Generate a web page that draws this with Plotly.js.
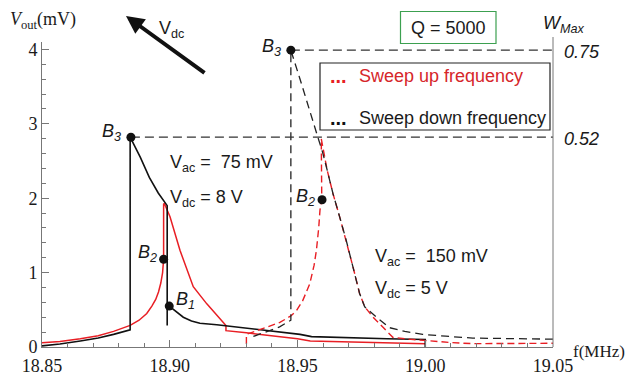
<!DOCTYPE html>
<html>
<head>
<meta charset="utf-8">
<script src="https://cdn.plot.ly/plotly-3.0.1.min.js"></script>
<style>html,body{margin:0;padding:0;background:#fff;}#chart{width:627px;height:376px;}</style>
</head>
<body>
<div id="chart"></div>
<script>
// ---- Data ----
// Vac = 75 mV, Vdc = 8 V, sweep up (red solid)
const up75X = [18.850, 18.857, 18.865, 18.872, 18.878, 18.8845, 18.888, 18.891, 18.893, 18.8945, 18.8956, 18.8965, 18.8972, 18.8976, 18.8976, 18.8979, 18.9001, 18.904, 18.9092, 18.9145, 18.922, 18.922, 18.930, 18.940, 18.950, 18.955, 18.965, 18.980, 19.000];
const up75Y = [0.057, 0.075, 0.11, 0.15, 0.21, 0.29, 0.36, 0.45, 0.55, 0.64, 0.74, 0.86, 1.00, 1.18, 1.92, 1.93, 1.75, 1.30, 0.81, 0.58, 0.29, 0.22, 0.19, 0.15, 0.11, 0.08, 0.07, 0.06, 0.045];
// Vac = 75 mV, Vdc = 8 V, sweep down (black solid)
const down75X = [18.850, 18.857, 18.865, 18.872, 18.878, 18.8845, 18.8845, 18.8885, 18.892, 18.8955, 18.899, 18.899, null, 18.8998, 18.9025, 18.9053, 18.9085, 18.9118, 18.9184, 18.9262, 18.9379, 18.951, 18.9555, 18.9665, 18.985, 19.000, 19.000];
const down75Y = [0.015, 0.04, 0.08, 0.12, 0.17, 0.23, 2.82, 2.55, 2.28, 2.07, 1.90, 0.29, null, 0.55, 0.48, 0.40, 0.35, 0.32, 0.30, 0.27, 0.22, 0.17, 0.14, 0.125, 0.11, 0.10, 0.0];
// Vac = 150 mV, Vdc = 5 V, sweep up (red dashed)
const up150X = [18.930, 18.930, 18.9366, 18.9431, 18.9475, 18.9496, 18.952, 18.9548, 18.9565, 18.9574, 18.9583, 18.9588, 18.9595, 18.9593, 18.9616, 18.9639, 18.9665, 18.9691, 18.9717, 18.9743, 18.9763, 18.9796, 18.9873, 18.992, 19.000, 19.010, 19.0186, 19.035, 19.050];
const up150Y = [0.04, 0.17, 0.25, 0.33, 0.42, 0.49, 0.62, 0.85, 1.10, 1.30, 1.60, 1.84, 1.98, 2.80, 2.38, 2.06, 1.75, 1.43, 1.08, 0.72, 0.54, 0.40, 0.13, 0.11, 0.085, 0.06, 0.045, 0.045, 0.05];
// Vac = 150 mV, Vdc = 5 V, sweep down (black dashed)
const down150X = [19.050, 19.035, 19.0186, 19.008, 18.999, 18.992, 18.986, 18.9809, 18.9763, 18.9743, 18.9717, 18.9691, 18.9665, 18.9639, 18.9616, 18.9598, 18.9577, 18.9548, 18.951, 18.9474, 18.9474, 18.943, 18.9366, 18.931];
const down150Y = [0.105, 0.11, 0.12, 0.145, 0.17, 0.21, 0.26, 0.40, 0.54, 0.72, 1.08, 1.43, 1.75, 2.06, 2.38, 2.62, 2.85, 3.19, 3.60, 3.99, 0.36, 0.27, 0.19, 0.12];
// Bifurcation points
const pointX = [18.8848, 18.8976, 18.8998, 18.9474, 18.9596];
const pointY = [2.82, 1.18, 0.55, 3.99, 1.98];
const pointLabels = ['B<sub>3</sub>', 'B<sub>2</sub>', 'B<sub>1</sub>', 'B<sub>3</sub>', 'B<sub>2</sub>'];
// Reference levels (W_Max) drawn from the B3 points to the right axis
const levelY = [2.82, 3.99];
const levelStartX = [18.8848, 18.9474];
const levelLabels = ['0.52', '0.75'];
const xMax = 19.05;

const RED = 'rgb(232,30,36)';
const traces = [
  {x: up75X, y: up75Y, mode: 'lines', line: {color: RED, width: 1.5}, connectgaps: false},
  {x: down75X, y: down75Y, mode: 'lines', line: {color: '#111', width: 1.6}, connectgaps: false},
  {x: up150X, y: up150Y, mode: 'lines', line: {color: RED, width: 1.4, dash: '7px,4px'}},
  {x: down150X, y: down150Y, mode: 'lines', line: {color: '#222', width: 1.3, dash: '8px,5px'}}
];
levelY.forEach((ly, i) => {
  traces.push({x: [levelStartX[i], xMax], y: [ly, ly], mode: 'lines', line: {color: '#333', width: 1.2, dash: '9px,5px'}, cliponaxis: false});
});
traces.push({x: pointX, y: pointY, mode: 'markers', marker: {color: '#111', size: 9}, cliponaxis: false});

const SANS = 'Liberation Sans, Arial, sans-serif';
const SERIF = 'Liberation Serif, Times New Roman, serif';
const TXT = '#1a1a1a';

// plot area in pixels: x 42..553, y 42..347
const px = v => (v - 42) / 511;
const py = v => (347 - v) / 305;

const ann = [];
// point labels
const labOff = [[-8, 5], [-5, 6], [5, 6], [-8, 3], [-5, 2]];
const labAnchor = ['right', 'right', 'left', 'right', 'right'];
pointX.forEach((x, i) => {
  ann.push({x: x, y: pointY[i], xref: 'x', yref: 'y', text: '<i>' + pointLabels[i] + '</i>', showarrow: false,
    xanchor: labAnchor[i], yanchor: 'middle', xshift: labOff[i][0], yshift: labOff[i][1],
    font: {family: SANS, size: 18, color: TXT}});
});
// right axis labels
levelLabels.forEach((t, i) => {
  ann.push({x: px(562), y: levelY[i], xref: 'paper', yref: 'y', text: '<i>' + t + '</i>', showarrow: false,
    xanchor: 'left', yanchor: 'middle', yshift: -2, font: {family: SANS, size: 18, color: TXT}});
});
const addText = (t, x, y, font, anchor) => ann.push({x: px(x), y: py(y), xref: 'paper', yref: 'paper', text: t,
  showarrow: false, xanchor: anchor || 'left', yanchor: 'middle', font: font});
const sansF = {family: SANS, size: 18, color: TXT};
addText('V<sub>ac</sub> =\u00a0\u00a075 mV', 168, 163, sansF);
addText('V<sub>dc</sub> = 8 V', 168, 198, sansF);
addText('V<sub>ac</sub> =\u00a0\u00a0150 mV', 373, 257, sansF);
addText('V<sub>dc</sub> = 5 V', 373, 289, sansF);
addText('V<sub>dc</sub>', 157, 29, sansF);
addText('Q = 5000', 448.5, 28, sansF, 'center');
addText('<i>W<sub>Max</sub></i>', 541, 24, sansF);
addText('<i>V</i><sub>out</sub>(mV)', 8, 21, {family: SERIF, size: 18, color: TXT});
addText('f(MHz)', 571, 351, {family: SERIF, size: 17, color: TXT});
// legend
addText('Sweep up frequency', 357, 76, {family: SANS, size: 18, color: 'rgb(214,38,42)'});
addText('Sweep down frequency', 357, 118, sansF);
addText('<b>...</b>', 328, 76, {family: SANS, size: 20, color: RED});
addText('<b>...</b>', 328, 118, {family: SANS, size: 20, color: '#111'});
// Vdc arrow
ann.push({x: px(126), y: py(16), xref: 'paper', yref: 'paper', text: '', showarrow: true,
  ax: 80, ay: 58, arrowhead: 2, arrowsize: 0.9, arrowwidth: 4, arrowcolor: '#111', standoff: 0});

const shapes = [
  {type: 'line', xref: 'paper', yref: 'paper', x0: 1, x1: 1, y0: 0, y1: py(37), line: {color: '#777', width: 1}},
  {type: 'rect', xref: 'paper', yref: 'paper', x0: px(400.5), x1: px(496), y0: py(43.5), y1: py(11.5), line: {color: 'rgb(60,160,80)', width: 1.2}},
  {type: 'rect', xref: 'paper', yref: 'paper', x0: px(320), x1: px(550), y0: py(130), y1: py(63), line: {color: '#222', width: 1.2}}
];

const layout = {
  width: 627, height: 376,
  margin: {l: 42, r: 74, t: 42, b: 29},
  paper_bgcolor: '#fff', plot_bgcolor: '#fff',
  showlegend: false,
  xaxis: {range: [18.85, 19.05], showline: true, linecolor: '#777', linewidth: 1, ticks: 'inside', ticklen: 7,
    tickcolor: '#777', tick0: 18.85, dtick: 0.05, tickformat: '.2f', showgrid: false, zeroline: false,
    ticklabelstandoff: 2,
    tickfont: {family: SERIF, size: 18, color: TXT},
    minor: {dtick: 0.01, tick0: 18.85, ticks: 'inside', ticklen: 4, tickcolor: '#777', showgrid: false}},
  yaxis: {range: [0, 4.1], showline: true, linecolor: '#777', linewidth: 1, ticks: 'inside', ticklen: 7,
    tickcolor: '#777', tick0: 0, dtick: 1, tickformat: 'd', showgrid: false, zeroline: false,
    tickfont: {family: SERIF, size: 18, color: TXT},
    minor: {dtick: 0.2, tick0: 0, ticks: 'inside', ticklen: 4, tickcolor: '#777', showgrid: false}},
  annotations: ann,
  shapes: shapes
};
Plotly.newPlot('chart', traces, layout, {staticPlot: true, displayModeBar: false});
</script>
</body>
</html>
